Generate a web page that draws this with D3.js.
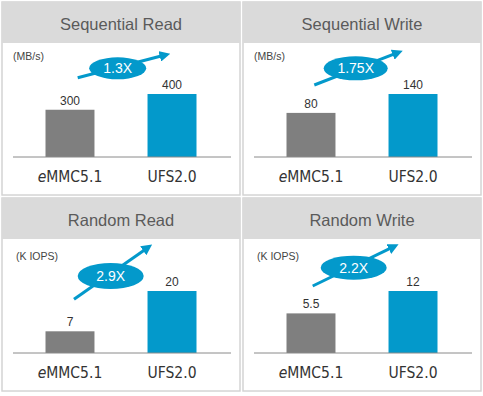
<!DOCTYPE html>
<html>
<head>
<meta charset="utf-8">
<script src="https://cdn.jsdelivr.net/npm/d3@7"></script>
<style>
  body { margin: 0; background: #fff; }
  text { font-family: "Liberation Sans", Arial, sans-serif; }
  .cat { font-family: "Liberation Sans Narrow", "DejaVu Sans Condensed", "Liberation Sans", sans-serif; }
</style>
</head>
<body>
<div id="chart"></div>
<script>
// Chart data
const titles = ["Sequential Read", "Sequential Write", "Random Read", "Random Write"];
const units = ["(MB/s)", "(MB/s)", "(K IOPS)", "(K IOPS)"];
const categories = ["eMMC5.1", "UFS2.0"];
const emmcValues = [300, 80, 7, 5.5];
const ufsValues = [400, 140, 20, 12];
const valueLabels = [["300", "400"], ["80", "140"], ["7", "20"], ["5.5", "12"]];
const gains = ["1.3X", "1.75X", "2.9X", "2.2X"];
// lower end of each panel's value axis (the original does not start every bar at zero)
const domainMins = [0, -60, 0, -6];

// Layout
const width = 483;
const height = 396;
const panelW = 238;
const panelH = 193;
const panelPos = [[2, 2], [243, 2], [2, 198], [243, 198]];
const baseline = 155;
const barMaxH = [63, 63, 62, 62];
const colors = ["#7f7f7f", "#0399cb"];
const blue = "#0399cb";

// Badge and arrow placement inside each panel
const badges = [
  { cx: 115.7, cy: 66.3, rx: 28.5, ry: 11, x1: 75.7, y1: 75.7, x2: 163, y2: 53 },
  { cx: 112.7, cy: 66.3, rx: 32, ry: 12, x1: 71.3, y1: 83, x2: 154.7, y2: 50.7 },
  { cx: 108.7, cy: 78, rx: 33, ry: 13, x1: 72, y1: 101.3, x2: 145.7, y2: 49.7 },
  { cx: 110.7, cy: 69.7, rx: 33, ry: 12, x1: 69.7, y1: 88, x2: 150.7, y2: 48.7 }
];

const svg = d3.select("#chart")
  .append("svg")
  .attr("width", width)
  .attr("height", height);

svg.append("defs").append("marker")
  .attr("id", "arrowhead")
  .attr("viewBox", "0 0 10 10")
  .attr("refX", 5)
  .attr("refY", 5)
  .attr("markerWidth", 3.6)
  .attr("markerHeight", 3.6)
  .attr("orient", "auto")
  .append("path")
  .attr("d", "M0,0 L10,5 L0,10 z")
  .attr("fill", blue);

const x = d3.scaleBand()
  .domain(categories)
  .range([18, 220])
  .paddingInner(0.52)
  .paddingOuter(0.25);

titles.forEach((title, i) => {
  const g = svg.append("g")
    .attr("transform", `translate(${panelPos[i][0]}, ${panelPos[i][1]})`);

  // Panel frame and title band
  g.append("rect")
    .attr("x", 0).attr("y", 0)
    .attr("width", panelW).attr("height", panelH)
    .attr("fill", "#fff")
    .attr("stroke", "#d4d4d4")
    .attr("stroke-width", 1.5);

  g.append("rect")
    .attr("x", 0).attr("y", 0)
    .attr("width", panelW).attr("height", 41)
    .attr("fill", "#dadada");

  g.append("text")
    .attr("x", panelW / 2)
    .attr("y", 28)
    .attr("text-anchor", "middle")
    .attr("font-size", 16.5)
    .attr("fill", "#5a5a5a")
    .text(title);

  g.append("text")
    .attr("x", i < 2 ? 11 : 14)
    .attr("y", i < 2 ? 58 : 62)
    .attr("font-size", 10.5)
    .attr("fill", "#444")
    .text(units[i]);

  const values = [emmcValues[i], ufsValues[i]];
  const y = d3.scaleLinear()
    .domain([domainMins[i], ufsValues[i]])
    .range([baseline, baseline - barMaxH[i]]);

  // Bars
  g.selectAll(".bar")
    .data(values)
    .enter()
    .append("rect")
    .attr("class", "bar")
    .attr("x", (d, j) => x(categories[j]))
    .attr("y", d => y(d))
    .attr("width", x.bandwidth())
    .attr("height", d => baseline - y(d))
    .attr("fill", (d, j) => colors[j]);

  // Value labels
  g.selectAll(".val")
    .data(values)
    .enter()
    .append("text")
    .attr("class", "val")
    .attr("x", (d, j) => x(categories[j]) + x.bandwidth() / 2)
    .attr("y", d => y(d) - 5)
    .attr("text-anchor", "middle")
    .attr("font-size", 12)
    .attr("fill", "#333")
    .text((d, j) => valueLabels[i][j]);

  // Baseline
  g.append("line")
    .attr("x1", 11).attr("x2", 229)
    .attr("y1", baseline).attr("y2", baseline)
    .attr("stroke", "#8a8a8a")
    .attr("stroke-width", 1);

  // Category labels
  categories.forEach((c, j) => {
    const t = g.append("text")
      .attr("class", "cat")
      .attr("x", x(c) + x.bandwidth() / 2)
      .attr("y", 180)
      .attr("text-anchor", "middle")
      .attr("font-size", 15.5)
      .attr("fill", "#333");
    if (c.startsWith("e")) {
      t.append("tspan").attr("font-style", "italic").text("e");
      t.append("tspan").text(c.slice(1));
    } else {
      t.text(c);
    }
  });

  // Gain arrow and badge
  const b = badges[i];
  g.append("line")
    .attr("x1", b.x1).attr("y1", b.y1)
    .attr("x2", b.x2).attr("y2", b.y2)
    .attr("stroke", blue)
    .attr("stroke-width", 3)
    .attr("marker-end", "url(#arrowhead)");

  g.append("ellipse")
    .attr("cx", b.cx).attr("cy", b.cy)
    .attr("rx", b.rx).attr("ry", b.ry)
    .attr("fill", blue);

  g.append("text")
    .attr("x", b.cx)
    .attr("y", b.cy + 5)
    .attr("text-anchor", "middle")
    .attr("font-size", 14)
    .attr("fill", "#fff")
    .text(gains[i]);
});
</script>
</body>
</html>
